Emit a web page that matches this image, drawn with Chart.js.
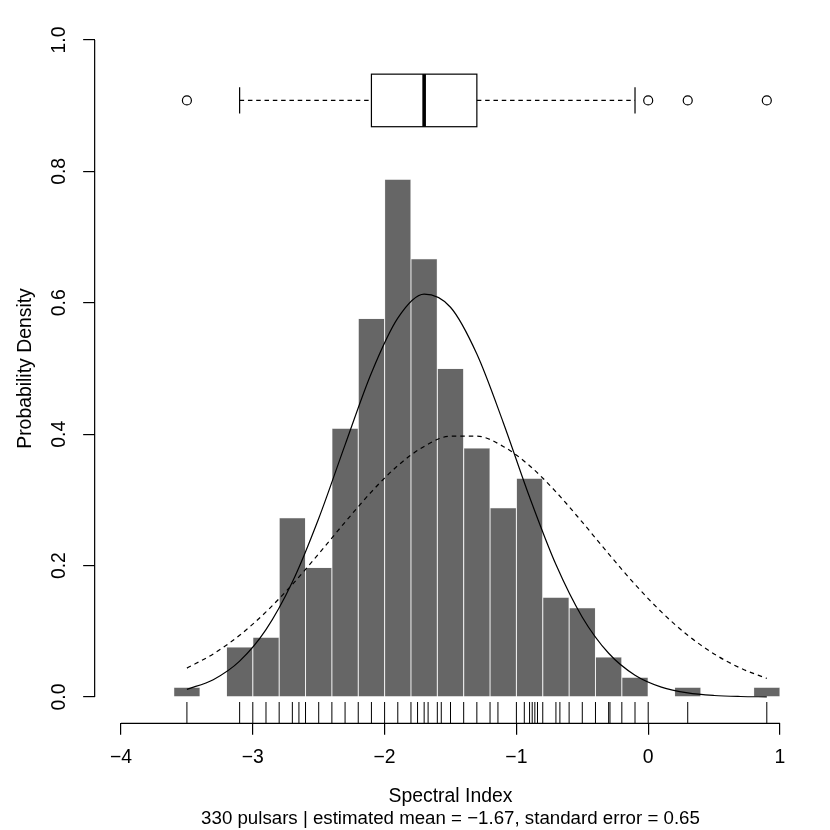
<!DOCTYPE html>
<html><head><meta charset="utf-8">
<script src="https://cdn.jsdelivr.net/npm/chart.js@4.4.1/dist/chart.umd.min.js"></script>
<style>html,body{margin:0;padding:0;background:#fff;}#wrap{width:830px;height:830px;}</style>
</head><body><div id="wrap"><canvas id="c" width="830" height="830"></canvas></div>
<script>
// ---- data ----
const binCenters = [-3.5,-3.3,-3.1,-2.9,-2.7,-2.5,-2.3,-2.1,-1.9,-1.7,-1.5,-1.3,-1.1,-0.9,-0.7,-0.5,-0.3,-0.1,0.1,0.3,0.5,0.7,0.9];
const densities  = [0.015,0,0.076,0.091,0.273,0.197,0.409,0.576,0.788,0.667,0.500,0.379,0.288,0.333,0.152,0.136,0.061,0.030,0,0.015,0,0,0.015];
const curveX     = [-3.5,-3.3,-3.1,-2.9,-2.7,-2.5,-2.3,-2.1,-1.9,-1.7,-1.5,-1.3,-1.1,-0.9,-0.7,-0.5,-0.3,-0.1,0.1,0.3,0.5,0.7,0.9];
const fitSolidY  = [0.0117,0.0264,0.0546,0.1025,0.1749,0.2717,0.3838,0.4932,0.5766,0.6131,0.5932,0.5220,0.4179,0.3043,0.2016,0.1215,0.0666,0.0332,0.0151,0.0062,0.0023,0.0008,0.0003];
const fitDashedY = [0.0440,0.0656,0.0940,0.1295,0.1714,0.2179,0.2661,0.3123,0.3521,0.3814,0.3970,0.3970,0.3814,0.3521,0.3123,0.2661,0.2179,0.1714,0.1295,0.0940,0.0656,0.0440,0.0283];
const rugValues  = [-3.5,-3.1,-3.0,-2.9,-2.8,-2.7,-2.65,-2.6,-2.5,-2.4,-2.3,-2.2,-2.1,-2.0,-1.9,-1.8,-1.75,-1.7,-1.67,-1.6,-1.57,-1.5,-1.4,-1.3,-1.2,-1.14,-1.0,-0.94,-0.9,-0.88,-0.86,-0.84,-0.8,-0.7,-0.67,-0.6,-0.5,-0.4,-0.3,-0.29,-0.2,-0.1,0.0,0.3,0.9];
const boxStats   = [-3.1,-2.1,-1.7,-1.3,-0.1]; // lower whisker, Q1, median, Q3, upper whisker
const boxOutliers= [-3.5,0.0,0.3,0.9];
const xTicks     = [-4,-3,-2,-1,0,1];
const xTickLabels= ['\u22124','\u22123','\u22122','\u22121','0','1'];
const yTicks     = [0,0.2,0.4,0.6,0.8,1.0];
const yTickLabels= ['0.0','0.2','0.4','0.6','0.8','1.0'];
const xTitle = 'Spectral Index';
const yTitle = 'Probability Density';
const subText = '330 pulsars | estimated mean = \u22121.67, standard error = 0.65';

// ---- layout/style constants ----
const FONT = "'Liberation Sans', Arial, Helvetica, sans-serif";
const LW = 1.2;
const BOX_Y = 0.908, BOX_HALF = 0.04, CAP_HALF = 0.02;

Chart.defaults.font.family = FONT;
Chart.defaults.color = '#000';

const rPlugin = {
  id: 'rExtras',
  afterDraw(chart) {
    const {ctx, chartArea, scales} = chart;
    const x = scales.x, y = scales.y;
    ctx.save();
    ctx.strokeStyle = '#000';
    ctx.lineWidth = LW;
    ctx.setLineDash([]);
    // axis lines (only across the tick range, R style)
    ctx.beginPath();
    ctx.moveTo(chartArea.left, y.getPixelForValue(yTicks[0]));
    ctx.lineTo(chartArea.left, y.getPixelForValue(yTicks[yTicks.length - 1]));
    ctx.moveTo(x.getPixelForValue(xTicks[0]), chartArea.bottom);
    ctx.lineTo(x.getPixelForValue(xTicks[xTicks.length - 1]), chartArea.bottom);
    ctx.stroke();
    // rug
    const rugLen = 0.03 * (chartArea.bottom - chartArea.top);
    ctx.lineWidth = 1;
    ctx.beginPath();
    rugValues.forEach(v => {
      const px = x.getPixelForValue(v);
      ctx.moveTo(px, chartArea.bottom);
      ctx.lineTo(px, chartArea.bottom - rugLen);
    });
    ctx.stroke();
    // boxplot
    const [wLo, q1, med, q3, wHi] = boxStats;
    const yc = y.getPixelForValue(BOX_Y);
    const yt = y.getPixelForValue(BOX_Y + BOX_HALF);
    const yb = y.getPixelForValue(BOX_Y - BOX_HALF);
    const ct = y.getPixelForValue(BOX_Y + CAP_HALF);
    const cb = y.getPixelForValue(BOX_Y - CAP_HALF);
    ctx.lineWidth = LW;
    ctx.setLineDash([4.5, 3.8]);
    ctx.beginPath();
    ctx.moveTo(x.getPixelForValue(wLo), yc); ctx.lineTo(x.getPixelForValue(q1), yc);
    ctx.moveTo(x.getPixelForValue(q3), yc); ctx.lineTo(x.getPixelForValue(wHi), yc);
    ctx.stroke();
    ctx.setLineDash([]);
    ctx.beginPath();
    [wLo, wHi].forEach(v => { const px = x.getPixelForValue(v); ctx.moveTo(px, ct); ctx.lineTo(px, cb); });
    ctx.stroke();
    const xq1 = x.getPixelForValue(q1), xq3 = x.getPixelForValue(q3);
    ctx.strokeRect(xq1, yt, xq3 - xq1, yb - yt);
    ctx.lineWidth = 3.6;
    ctx.beginPath();
    const xm = x.getPixelForValue(med);
    ctx.moveTo(xm, yt); ctx.lineTo(xm, yb);
    ctx.stroke();
    ctx.lineWidth = LW;
    boxOutliers.forEach(v => {
      ctx.beginPath();
      ctx.arc(x.getPixelForValue(v), yc, 4.5, 0, Math.PI * 2);
      ctx.stroke();
    });
    ctx.restore();
  }
};

new Chart(document.getElementById('c'), {
  type: 'bar',
  data: {
    datasets: [
      { type: 'line', data: curveX.map((v, i) => ({x: v, y: fitSolidY[i]})),
        borderColor: '#000', borderWidth: LW, pointRadius: 0, fill: false,
        cubicInterpolationMode: 'monotone', order: 0 },
      { type: 'line', data: curveX.map((v, i) => ({x: v, y: fitDashedY[i]})),
        borderColor: '#000', borderWidth: LW, borderDash: [4.5, 4], pointRadius: 0, fill: false,
        cubicInterpolationMode: 'monotone', order: 1 },
      { type: 'bar', data: binCenters.map((v, i) => ({x: v, y: densities[i]})),
        backgroundColor: '#666666', borderColor: '#e0e0e0', borderWidth: 0.5,
        barPercentage: 1, categoryPercentage: 1, inflateAmount: 0, order: 2 }
    ]
  },
  options: {
    responsive: false, animation: false, devicePixelRatio: 1,
    layout: { padding: { left: 0, right: 23.65, top: 13.7, bottom: 0.83 } },
    plugins: {
      legend: { display: false }, tooltip: { enabled: false },
      subtitle: { display: true, position: 'bottom', fullSize: false, text: subText, color: '#000',
        font: { size: 18.7, weight: 'normal', family: FONT, lineHeight: 1.1 }, padding: { top: 0, bottom: 0 } }
    },
    scales: {
      x: {
        type: 'linear', position: 'bottom', min: -4.2, max: 1.2, offset: false,
        afterBuildTicks: s => { s.ticks = xTicks.map(v => ({value: v})); },
        afterFit: s => { s.height = 85.3; s.paddingLeft = 0; s.paddingRight = 0; },
        ticks: { autoSkip: false, minRotation: 0, maxRotation: 0, padding: 11.5, color: '#000',
          font: { size: 19.4 }, callback: (v, i) => xTickLabels[i] },
        grid: { offset: false, drawOnChartArea: false, drawTicks: true, tickLength: 11.5, color: '#000', lineWidth: LW },
        border: { display: false },
        title: { display: true, text: xTitle, color: '#000', font: { size: 19.4 }, padding: { top: 0, bottom: 0 } }
      },
      y: {
        type: 'linear', position: 'left', min: -0.04, max: 1.04,
        afterBuildTicks: s => { s.ticks = yTicks.map(v => ({value: v})); },
        afterFit: s => { s.width = 94.65; s.paddingTop = 0; s.paddingBottom = 0; },
        ticks: { autoSkip: false, minRotation: 90, maxRotation: 90, crossAlign: 'center', padding: 9.65,
          color: '#000', font: { size: 19.4 }, callback: (v, i) => yTickLabels[i] },
        grid: { offset: false, drawOnChartArea: false, drawTicks: true, tickLength: 11.5, color: '#000', lineWidth: LW },
        border: { display: false },
        title: { display: true, text: yTitle, color: '#000', font: { size: 19.4 }, padding: { top: 13.6, bottom: 0 } }
      }
    }
  },
  plugins: [rPlugin]
});
</script></body></html>
